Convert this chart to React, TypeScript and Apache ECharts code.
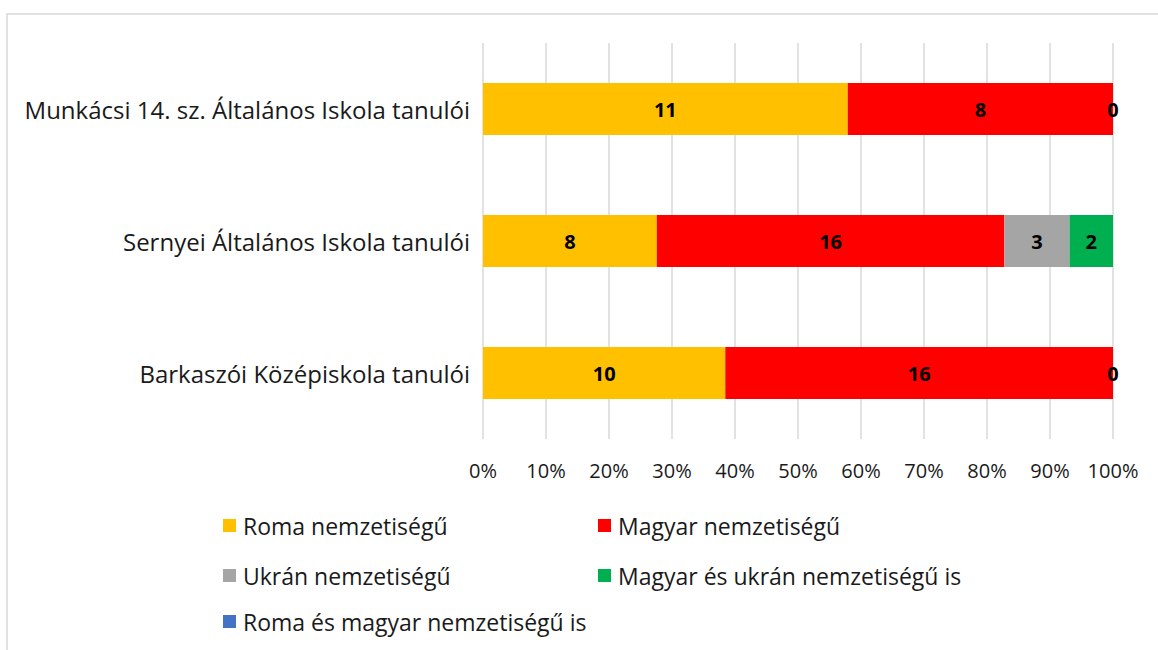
import React, { useEffect, useRef } from "react";
import * as echarts from "echarts";

const categories = [
  "Munkácsi 14. sz. Általános Iskola tanulói",
  "Sernyei Általános Iskola tanulói",
  "Barkaszói Középiskola tanulói",
];
const seriesNames = [
  "Roma nemzetiségű",
  "Magyar nemzetiségű",
  "Ukrán nemzetiségű",
  "Magyar és ukrán nemzetiségű is",
  "Roma és magyar nemzetiségű is",
];
const roma: (number | null)[] = [11, 8, 10];
const magyar: (number | null)[] = [8, 16, 16];
const ukran: (number | null)[] = [0, 3, 0];
const magyarUkran: (number | null)[] = [null, 2, null];
const romaMagyar: (number | null)[] = [null, null, null];
const xTickLabels = ["0%", "10%", "20%", "30%", "40%", "50%", "60%", "70%", "80%", "90%", "100%"];
const colors = ["#FFC000", "#FF0000", "#A5A5A5", "#00B050", "#4472C4"];

const FONT = "Open Sans";

export default function App() {
  const ref = useRef<HTMLDivElement>(null);
  useEffect(() => {
    if (!ref.current) return;
    const chart = echarts.init(ref.current, undefined, { renderer: "svg" });
    const raw = [roma, magyar, ukran, magyarUkran, romaMagyar];
    const totals = categories.map((_, i) =>
      raw.reduce((s, arr) => s + (arr[i] ?? 0), 0)
    );
    const series = raw.map((arr, si) => ({
      name: seriesNames[si],
      type: "bar",
      stack: "total",
      barWidth: 52,
      itemStyle: { color: colors[si] },
      label: {
        show: true,
        position: "inside",
        color: "#000",
        fontFamily: FONT,
        fontWeight: "bold",
        fontSize: 20,
        formatter: (p: any) => {
          const v = raw[p.seriesIndex][p.dataIndex];
          return v === null || v === undefined ? "" : String(v);
        },
      },
      data: arr.map((v, i) => (v === null ? null : (v / totals[i]) * 100)),
    }));
    const legendPos = [
      { left: 218, top: 509 },
      { left: 593, top: 509 },
      { left: 218, top: 559 },
      { left: 593, top: 559 },
      { left: 218, top: 605 },
    ];
    chart.setOption({
      animation: false,
      graphic: [
        {
          type: "rect",
          shape: { x: 7, y: 14, width: 1200, height: 700 },
          style: { fill: "none", stroke: "#D9D9D9", lineWidth: 1.5 },
          silent: true,
        },
      ],
      grid: { left: 483, right: 45, top: 43, bottom: 211, containLabel: false },
      xAxis: {
        type: "value",
        min: 0,
        max: 100,
        interval: 10,
        axisLine: { show: false },
        axisTick: { show: false },
        splitLine: { show: true, lineStyle: { color: "#D9D9D9", width: 1.5 } },
        axisLabel: {
          margin: 21,
          fontFamily: FONT,
          fontSize: 20,
          color: "#1a1a1a",
          formatter: (v: number) => xTickLabels[Math.round(v / 10)],
        },
      },
      yAxis: {
        type: "category",
        inverse: true,
        data: categories,
        axisLine: { show: false },
        axisTick: { show: false },
        axisLabel: { margin: 13, fontFamily: FONT, fontSize: 24, color: "#1a1a1a" },
      },
      legend: seriesNames.map((n, i) => ({
        data: [n],
        left: legendPos[i].left,
        top: legendPos[i].top,
        itemWidth: 13,
        itemHeight: 13,
        icon: "rect",
        itemGap: 0,
        selectedMode: false,
        textStyle: { fontFamily: FONT, fontSize: 23, color: "#1a1a1a", padding: [0, 0, 0, 2] },
      })),
      series,
    });
    return () => chart.dispose();
  }, []);
  return (
    <div
      ref={ref}
      style={{ position: "fixed", left: 0, top: 0, width: 1158, height: 650, background: "#fff" }}
    />
  );
}
